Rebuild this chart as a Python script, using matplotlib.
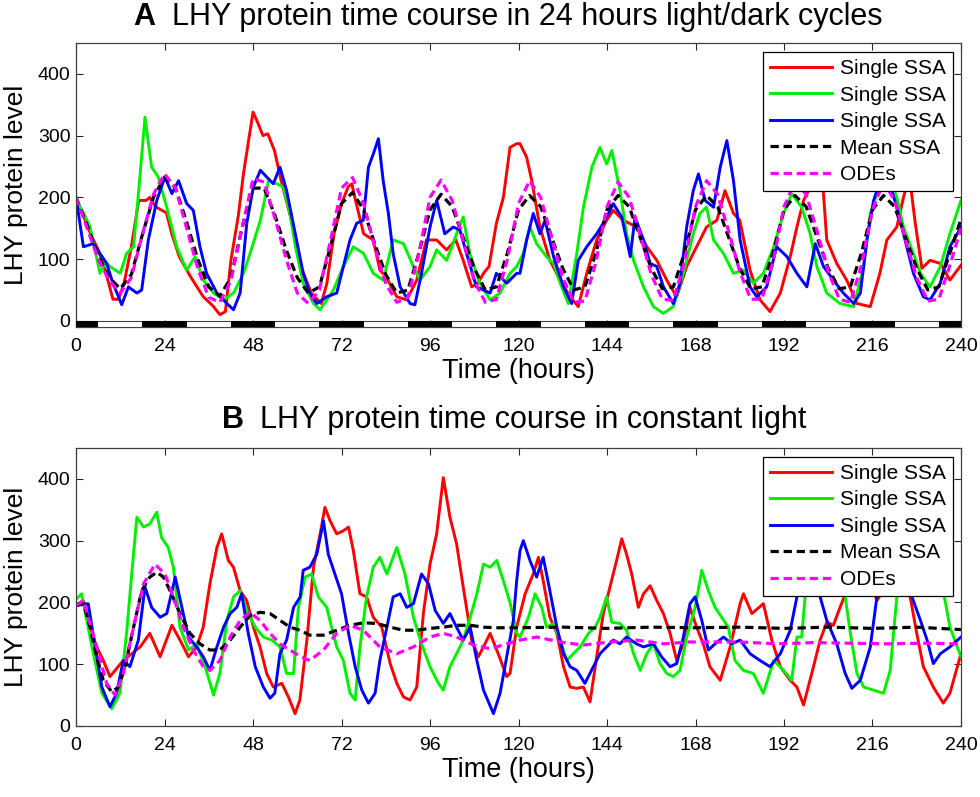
import numpy as np
import matplotlib
matplotlib.use("Agg")
import matplotlib.pyplot as plt

# ---- data (time in hours, LHY protein level) ----

# Panel A: 24 h light/dark cycles
a_red_t = [0, 2, 4, 6, 8, 10, 11.5, 13, 15, 17, 19, 20, 21.5, 23, 24.5, 26, 28, 31, 34.5, 37, 39, 40.5,
           42, 44, 45.4, 47, 48, 49, 50.7, 52, 53.8, 55.6, 58.4, 61, 63.8, 66.5, 68, 70, 72, 73.8, 74.8,
           75.6, 78, 80.6, 82.4, 84, 87, 89.7, 92.4, 95, 97.8, 100.5, 103, 105, 107.3, 109, 110.5, 112,
           114, 115.9, 117.7, 119.5, 120.4, 122.2, 123.6, 125.8, 128.5, 131.3, 134, 136.2, 138.5, 141.2,
           143.9, 145.7, 148.4, 152, 154.8, 157.5, 160.2, 162.9, 165.6, 168.3, 171, 173.8, 176, 178.3,
           180, 182.8, 185.5, 188.2, 191, 193.7, 195.5, 197.3, 199, 200.5, 202, 203.6, 206.3, 209, 211.8,
           215.4, 218, 219.9, 222.6, 224.4, 226, 227.6, 229.4, 231.6, 234.4, 237, 240]
a_red_v = [198, 170, 140, 115, 80, 35, 35, 60, 120, 195, 195, 200, 185, 180, 175, 140, 104, 72, 39, 25, 10, 15,
           98, 170, 238, 300, 338, 325, 300, 303, 276, 228, 163, 88, 45, 28, 60, 142, 190, 217, 222,
           200, 141, 131, 82, 72, 39, 34, 66, 131, 131, 115, 131, 98, 55, 61, 77, 88,
           158, 200, 281, 287, 287, 265, 227, 152, 98, 66, 39, 23, 77, 131,
           163, 179, 163, 152, 120, 98, 66, 39, 88, 120, 152, 163, 211, 174,
           163, 82, 34, 15, 45, 104, 152, 195, 215, 240, 265, 131, 93, 66, 28,
           23, 77, 131, 152, 200, 235, 158, 85, 98, 93, 66, 90]

a_green_t = [0, 2, 3.8, 6.5, 8, 9.2, 12, 13.7, 15.6, 17, 18.7, 20.5, 22.3, 24.6, 27.3, 30, 32.3, 34.5, 37.3,
             40, 42.7, 45.4, 47.2, 50, 52.2, 54.4, 56.2, 58, 59.5, 61.6, 64.4, 66.2, 69.8, 72.5, 75.2, 78,
             80.6, 83.3, 86, 88.8, 91.5, 93.3, 96, 97.8, 100.5, 103.2, 105, 106.8, 109.5, 112.3, 115,
             117.7, 119.5, 121.3, 123.1, 124.9, 127.6, 129.5, 131.3, 133.5, 135.8, 137.6, 139.9, 142.1,
             143.9, 145.3, 147.5, 149.3, 151.2, 153.9, 156.6, 159.3, 162, 164.7, 167.4, 169.2, 171, 172.9,
             175.6, 178.3, 181, 183.7, 186.4, 189.2, 191.9, 194.1, 196.8, 199.1, 200.9, 203.6, 207.2,
             210.9, 213.6, 215.4, 217.2, 219.9, 222.6, 224.4, 227.1, 229, 231.6, 234.4, 237, 240]
a_green_v = [195, 175, 152, 77, 95, 88, 77, 109, 120, 211, 330, 249, 233, 184, 120, 82, 104, 66, 45,
             34, 45, 77, 109, 163, 227, 222, 217, 174, 120, 61, 28, 18, 50, 88, 120, 109,
             77, 66, 131, 125, 88, 66, 88, 115, 98, 141, 168, 109, 61, 34, 45,
             77, 88, 109, 152, 125, 104, 93, 61, 28, 109, 184, 249, 281,
             254, 276, 211, 141, 98, 55, 23, 12, 23, 77, 141, 174, 184, 131,
             109, 77, 82, 61, 77, 120, 174, 206, 184, 141, 88, 45, 28,
             23, 88, 174, 206, 240, 200, 152, 109, 77, 55, 88, 141, 195]

a_blue_t = [0, 2, 4.7, 6.5, 8.3, 10, 12.4, 14.2, 16.5, 17.8, 19.6, 21.9, 24.1, 26, 27.8, 30, 31.8, 33.6,
            35.4, 38.2, 40.9, 42.7, 44.5, 46.3, 48.1, 50, 51.7, 53.5, 55.3, 57.1, 59.8, 61.6, 63.4, 65.3,
            68, 70.7, 72.5, 74.3, 76.1, 77.9, 79.3, 80.6, 82, 83.3, 84.7, 86, 87.9, 90.6, 91.9, 93.7, 96,
            97.8, 100, 102.3, 104.1, 105.9, 108.6, 112.3, 114, 116.8, 119.5, 120.4, 122.2, 124, 125.8,
            127.2, 129.5, 132.2, 134.4, 136.2, 138.5, 141.2, 143.5, 145.7, 148, 150.3, 151.6, 153.9,
            155.7, 157.5, 159.3, 162, 163.8, 165.6, 167.4, 168.8, 170.6, 172.9, 174.7, 176.5, 178.3,
            180.1, 182.8, 184.6, 187.3, 190, 192.8, 195.5, 198.2, 200.5, 202.7, 205.4, 208.1, 210.9,
            212.7, 214.5, 216.3, 218.5, 220.5, 222.6, 224.4, 227.1, 229.8, 231.6, 234.4, 237, 240]
a_blue_v = [200, 120, 125, 109, 93, 61, 26, 55, 45, 50, 131, 195, 233, 206, 227, 190, 179, 120,
            77, 45, 28, 18, 45, 158, 217, 244, 233, 222, 249, 211, 131, 77, 45, 28,
            39, 45, 88, 131, 158, 163, 249, 270, 295, 227, 174, 109, 55, 28, 26, 77, 152,
            195, 141, 152, 147, 109, 55, 45, 77, 61, 77, 77, 131, 174, 141,
            163, 104, 55, 28, 98, 120, 141, 163, 190, 168, 104, 168, 131,
            93, 88, 55, 28, 61, 152, 211, 238, 195, 184, 249, 292, 227,
            131, 55, 39, 55, 120, 104, 77, 55, 125, 88, 66, 45, 28,
            45, 131, 195, 235, 225, 184, 141, 77, 39, 34, 61, 120, 152]

# mean SSA and ODE curves, sampled every 3 hours
grid_t = list(range(0, 241, 3))
a_mean_v = [200, 155, 105, 70, 52, 75, 140, 200, 233, 215, 160, 100, 55, 40, 70, 150, 215, 215, 170,
            115, 70, 45, 55, 120, 190, 208, 180, 125, 75, 45, 50, 110, 180, 205, 185, 135, 85, 50,
            55, 110, 180, 203, 185, 135, 85, 50, 55, 110, 180, 203, 185, 135, 85, 52, 55, 110, 180,
            203, 185, 135, 85, 52, 55, 110, 180, 203, 185, 135, 85, 52, 55, 110, 180, 203, 185, 135,
            85, 50, 55, 110, 165]
a_ode_v = [200, 150, 100, 65, 45, 70, 140, 205, 238, 215, 150, 85, 38, 30, 65, 150, 230, 225, 165,
           100, 45, 28, 50, 130, 215, 232, 190, 120, 60, 30, 38, 110, 200, 228, 195, 130, 65, 30,
           35, 100, 190, 227, 200, 135, 70, 30, 32, 95, 185, 225, 200, 140, 75, 35, 33, 95, 185,
           227, 205, 145, 80, 35, 35, 95, 185, 225, 205, 145, 80, 35, 30, 90, 180, 225, 195, 130,
           70, 32, 35, 90, 150]

# Panel B: constant light
b_red_t = [0, 2, 3.8, 5.6, 7.4, 9.2, 10.6, 12.8, 15.1, 17.4, 20, 22.8, 26, 28.2, 30.5, 32.7, 34.5, 36.3,
           38.2, 39.5, 41.3, 42.7, 44.5, 46.3, 48.1, 49.9, 51.7, 53.5, 55.8, 57.6, 59.4, 60.7, 62.6, 64.4,
           66.2, 67.5, 68.9, 70.7, 72.5, 73.9, 75.2, 77, 78.8, 80.6, 82.9, 85.2, 87, 88.8, 90.6, 92.4,
           94.2, 96, 97.8, 99.6, 101.4, 103.2, 105, 107.3, 109.1, 110.9, 112.3, 114.5, 116.8, 117.7,
           119.5, 121.8, 124, 125.4, 126.7, 128.5, 130.4, 132.2, 134, 135.8, 137.6, 139.4, 141.2, 143,
           144.8, 146.6, 148, 149.3, 150.7, 152.5, 153.9, 155.7, 157.5, 159.3, 161.1, 162.9, 164.7,
           166.5, 168.3, 170.1, 171.9, 174.7, 177.4, 180.1, 181, 183.3, 186.4, 188.7, 191, 193.7, 195.5,
           197.3, 200, 201.8, 203.6, 205.4, 207.2, 209, 211, 213, 215, 217.2, 219, 222, 225, 226.5, 228,
           229.8, 232.5, 235.2, 237, 240]
b_red_v = [195, 203, 160, 128, 106, 80, 90, 106, 117, 128, 150, 112, 163, 139, 112, 128, 160, 230,
           289, 311, 268, 257, 219, 203, 160, 128, 85, 63, 69, 47, 20, 42, 139, 257,
           311, 354, 332, 311, 316, 322, 284, 214, 209, 176, 160, 101, 69, 47, 42, 63,
           182, 262, 311, 402, 338, 295, 225, 139, 112, 133, 150, 117, 80, 85,
           160, 214, 246, 273, 235, 176, 150, 96, 63, 61, 63, 39, 112, 182,
           225, 268, 303, 278, 246, 192, 214, 227, 203, 182, 150, 106, 133,
           192, 160, 133, 96, 74, 128, 198, 214, 182, 198, 139, 96, 74, 63,
           34, 96, 139, 168, 163, 192, 219, 250, 270, 240, 203, 220, 270, 240, 200, 150,
           96, 63, 37, 53, 117]

b_green_t = [0, 1.5, 2.9, 4.7, 7, 9.7, 11.9, 13.7, 15.1, 16.5, 18.3, 20, 21.9, 23.2, 25, 26.4, 28.2, 30.5,
             32.7, 35, 37.3, 39, 40.9, 42.7, 44.5, 46.3, 48.6, 50.8, 53.1, 55.3, 57.1, 59, 60.3, 62.1,
             63.9, 65.7, 68, 69.3, 70.7, 72.5, 74.3, 75.7, 77, 78.8, 80.6, 82.4, 84.3, 87, 89.2, 91.5,
             93.7, 96, 98.3, 99.6, 101.4, 103.2, 105, 106.9, 108.7, 110.5, 112.3, 114.1, 115.9, 117.7,
             119.5, 120.4, 122.7, 124.5, 126.3, 127.6, 129.5, 131.3, 133.1, 134.9, 136.7, 139, 140.8,
             142.1, 143.9, 145.3, 147.5, 149.3, 151.2, 153, 154.8, 156.6, 158.4, 160.2, 162, 163.8,
             165.6, 167.9, 169.7, 171.5, 173.3, 175.1, 176.9, 178.7, 181, 183.7, 186.4, 189.2, 191.9,
             194.1, 195.5, 196.8, 197.7, 200, 203, 206, 208.6, 210, 211.8, 213.6, 216.3, 219, 220.8,
             222.6, 225, 229, 233, 235.5, 237, 240]
b_green_v = [205, 214, 171, 117, 53, 28, 53, 150, 246, 338, 322, 327, 346, 305, 289, 257, 160, 123,
             133, 96, 50, 85, 171, 209, 219, 187, 160, 144, 139, 128, 85, 85, 192, 241,
             246, 209, 192, 160, 128, 106, 53, 42, 128, 209, 257, 273, 246, 289, 246, 176,
             133, 96, 69, 58, 96, 117, 139, 176, 214, 262, 257, 268, 235, 200,
             150, 144, 176, 214, 192, 160, 166, 139, 106, 117, 128, 150, 160,
             176, 209, 168, 166, 155, 117, 90, 117, 133, 101, 85, 80, 90,
             144, 192, 252, 219, 192, 176, 160, 106, 90, 85, 53, 106, 90,
             74, 144, 144, 209, 250, 260, 230, 209, 150, 85, 63, 58, 53, 90,
             209, 250, 260, 240, 209, 160, 112]

b_blue_t = [0, 3.3, 5.2, 7, 9.2, 11, 12.8, 14.6, 16.9, 18.7, 20.5, 22.8, 24.6, 26.9, 28.7, 30.5, 32.7,
            34.5, 36.3, 38.2, 40, 41.8, 43.6, 44.9, 46.7, 48.6, 50.8, 52.6, 53.9, 55.3, 57.1, 59, 60.8,
            61.6, 63.4, 65.3, 67.1, 68.4, 70.2, 72, 73.9, 75.7, 77.5, 79.3, 81.1, 82.4, 84.3, 86, 87.9,
            89.7, 91.5, 93.7, 95.6, 97.4, 99.6, 101.4, 103.2, 105, 106.9, 108.7, 110.5, 113.2, 115,
            116.8, 118.6, 119.5, 120.4, 121.3, 123.1, 124.9, 126.7, 128.5, 130.4, 132.2, 134, 135.8,
            138, 140.3, 142.1, 143.9, 145.7, 147.5, 149.3, 152, 153.9, 156.6, 158.8, 161.1, 162.9,
            164.7, 166.5, 167.9, 169.7, 171.5, 173.3, 175.6, 177.8, 180.1, 182.8, 185.5, 188.2, 191,
            193.7, 195.5, 198, 200, 201.8, 203.6, 206.3, 208.6, 210.4, 212.7, 215.4, 217.2, 220, 224,
            226.7, 229, 230.8, 232.5, 234.4, 237, 240]
b_blue_v = [195, 198, 128, 63, 31, 53, 106, 96, 139, 225, 192, 176, 182, 241, 192, 144, 128,
            112, 90, 128, 160, 182, 192, 214, 150, 96, 63, 45, 53, 117, 139, 192, 209,
            252, 257, 278, 332, 278, 246, 214, 150, 96, 58, 37, 53, 106, 160, 209, 214,
            192, 198, 246, 230, 187, 166, 182, 160, 139, 160, 106, 58, 20, 53,
            112, 171, 235, 284, 300, 268, 241, 273, 219, 160, 117, 96, 90,
            69, 96, 117, 128, 139, 133, 144, 133, 128, 133, 112, 96, 101,
            144, 198, 209, 171, 123, 133, 144, 133, 139, 117, 106, 96, 117,
            155, 209, 245, 235, 209, 171, 133, 85, 61, 74, 128, 209, 250, 240,
            209, 171, 139, 101, 117, 128, 144]

b_mean_t = [0, 2, 3.8, 5.6, 7.4, 9.7, 11.5, 13.3, 15.6, 17.8, 20, 21.9, 23.7, 25.5, 28.2, 30.9, 33.6,
            36.3, 39, 41.8, 44.5, 47.2, 49.9, 52.6, 55.3, 58, 60.7, 63.4, 67.1, 70.7, 74.3, 77.9, 81.5,
            85.2, 88.8, 92.4, 96, 99.6, 103.2, 106.9, 110.5, 114, 120, 132, 144, 156, 168, 180, 192,
            204, 216, 228, 240]
b_mean_v = [195, 198, 160, 112, 74, 55, 63, 96, 160, 219, 241, 249, 241, 219, 182, 150, 133,
            123, 123, 139, 160, 179, 184, 182, 171, 160, 155, 147, 147, 155, 163, 167, 166,
            160, 155, 155, 158, 160, 163, 163, 160, 159, 159, 160, 158, 160, 159, 160, 158,
            160, 158, 160, 156]

b_ode_t = [0, 2, 5.6, 8.3, 10.6, 12.8, 15.6, 18.3, 21.4, 24.1, 26.4, 29.1, 31.8, 34.5, 36.3, 39, 41.8,
           44.5, 47.2, 49.9, 52.6, 55.3, 58, 61, 63.4, 67.1, 70.7, 74.3, 77.9, 82.4, 87, 91.5, 96, 99.6,
           103.2, 107.8, 112.3, 116.8, 120.4, 124.9, 131.3, 137.6, 144.8, 152, 159.3, 166.5, 173.8,
           180, 190, 200, 210, 220, 230, 240]
b_ode_v = [195, 203, 128, 69, 50, 85, 160, 230, 262, 246, 209, 160, 123, 96, 90, 106, 144,
           171, 184, 171, 150, 133, 123, 112, 106, 123, 150, 163, 155, 128, 117, 128, 144, 150,
           144, 131, 125, 133, 139, 144, 136, 131, 136, 139, 133, 136, 136,
           136, 133, 135, 134, 133, 134, 133]

# dark periods of the light/dark cycle (start, length) in hours
dark_periods = [(0, 6), (18, 12), (42, 12), (66, 12), (90, 12), (114, 12),
                (138, 12), (162, 12), (186, 12), (210, 12), (234, 6)]

labels = ["Single SSA", "Single SSA", "Single SSA", "Mean SSA", "ODEs"]
x_ticks = list(range(0, 241, 24))
y_ticks = [0, 100, 200, 300, 400]

# ---- drawing ----
plt.rcParams["font.family"] = ["Liberation Sans", "DejaVu Sans"]

fig = plt.figure(figsize=(9.8, 7.97), dpi=100)
ax_a = fig.add_axes([0.0776, 0.5897, 0.903, 0.3563])
ax_b = fig.add_axes([0.0776, 0.0891, 0.903, 0.3488])

dash = (0, (2.6, 1.5))


def draw_panel(ax, red, green, blue, mean, ode):
    ax.plot(red[0], red[1], color="#ff0000", lw=2.1, label=labels[0])
    ax.plot(green[0], green[1], color="#00f000", lw=2.1, label=labels[1])
    ax.plot(blue[0], blue[1], color="#0000ff", lw=2.1, label=labels[2])
    ax.plot(mean[0], mean[1], color="black", lw=2.3, linestyle=dash, label=labels[3])
    ax.plot(ode[0], ode[1], color="#ff00ff", lw=2.3, linestyle=dash, label=labels[4])

    ax.set_xlim(0, 240)
    ax.set_xticks(x_ticks)
    ax.set_yticks(y_ticks)
    ax.tick_params(direction="in", top=True, right=True, length=5, width=0.8,
                   labelsize=14, colors="#262626")
    ax.tick_params(labelcolor="black")
    ax.tick_params(axis="x", pad=8)
    ax.tick_params(axis="y", pad=4)
    for sp in ax.spines.values():
        sp.set_color("#404040")
        sp.set_linewidth(0.9)
    ax.set_xlabel("Time (hours)", fontsize=19.5, labelpad=2)
    ax.set_ylabel("LHY protein level", fontsize=19, labelpad=7)

    leg = ax.legend(loc="upper right", bbox_to_anchor=(0.991, 0.968), fontsize=15,
                    frameon=True, fancybox=False, framealpha=1, edgecolor="black",
                    handlelength=3.0, handletextpad=0.38, labelspacing=0.36,
                    borderpad=0.34, borderaxespad=0)
    leg.get_frame().set_linewidth(0.9)
    leg.set_zorder(5)


draw_panel(ax_a, (a_red_t, a_red_v), (a_green_t, a_green_v), (a_blue_t, a_blue_v),
           (grid_t, a_mean_v), (grid_t, a_ode_v))
ax_a.set_ylim(-10, 450)

# light/dark bar along the bottom of panel A
ax_a.broken_barh([(0, 240)], (-10, 10), facecolors="white", edgecolor="#404040",
                 linewidth=0.8, zorder=3)
ax_a.broken_barh(dark_periods, (-10, 10), facecolors="black", zorder=4)

draw_panel(ax_b, (b_red_t, b_red_v), (b_green_t, b_green_v), (b_blue_t, b_blue_v),
           (b_mean_t, b_mean_v), (b_ode_t, b_ode_v))
ax_b.set_ylim(0, 450)

# panel titles: bold letter + plain text
fig.text(133 / 980, 1 - 17 / 797, "A", fontsize=22, fontweight="bold", va="center", ha="left")
fig.text(172 / 980, 1 - 17 / 797, "LHY protein time course in 24 hours light/dark cycles",
         fontsize=22, va="center", ha="left")
fig.text(222 / 980, 1 - 420 / 797, "B", fontsize=22, fontweight="bold", va="center", ha="left")
fig.text(260 / 980, 1 - 420 / 797, "LHY protein time course in constant light",
         fontsize=22, va="center", ha="left")

fig.savefig("out.png", dpi=100)
